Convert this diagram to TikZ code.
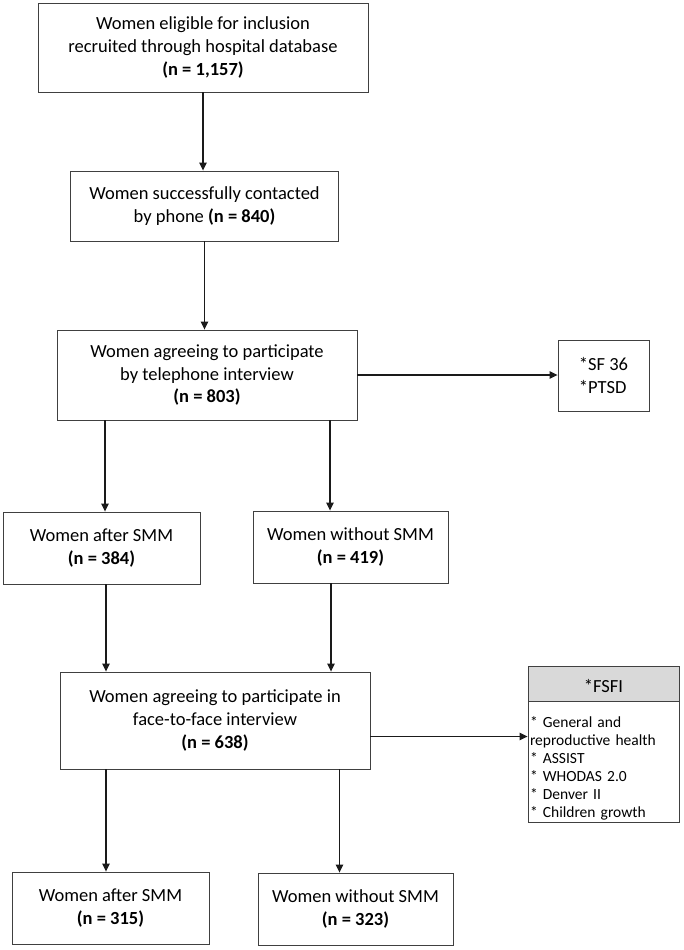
\documentclass[tikz,border=0pt]{standalone}
\usepackage{fontspec}
\setmainfont{Carlito}
\usetikzlibrary{arrows.meta,positioning,calc}
\definecolor{ink}{HTML}{1A1A1A}
\definecolor{boxline}{HTML}{404040}
\definecolor{headgray}{HTML}{D9D9D9}
\tikzset{
box/.style={draw=boxline,fill=white,line width=.9pt,align=center,font=\fontsize{18.5}{23}\selectfont,inner sep=2pt,execute at begin node={\rule{0pt}{18pt}}},
listbox/.style={box,align=left,font=\fontsize{15.5}{18}\selectfont,execute at begin node={\rule{0pt}{23pt}}},
flow/.style={-{Triangle[length=8pt,width=7.5pt]},line width=1.1pt,draw=ink}}

\begin{document}
\begin{tikzpicture}[x=1pt,y=-1pt]
\useasboundingbox (0,0) rectangle (683,950);
% telephone stage
\node[box,minimum width=330pt,minimum height=89pt] (eligible) at (203,47.5) {Women eligible for inclusion\\recruited through hospital database\\\textbf{(n = 1,157)}};
\node[box,minimum width=268pt,minimum height=70pt] (contacted) at (204.5,206) {Women successfully contacted\\by phone \textbf{(n = 840)}};
\node[box,minimum width=300pt,minimum height=90pt] (phone) at (207,375) {Women agreeing to participate\\by telephone interview\\\textbf{(n = 803)}};
\node[box,align=left,minimum width=91pt,minimum height=71pt] (sfptsd) at (603.5,375.5) {*SF 36\\{}*PTSD};
\node[box,minimum width=197pt,minimum height=72pt] (smmA) at (101.5,548) {Women after SMM\\\textbf{(n = 384)}};
\node[box,minimum width=195pt,minimum height=72pt] (nosmmA) at (350.5,547) {Women without SMM\\\textbf{(n = 419)}};
% face-to-face stage
\node[box,minimum width=310pt,minimum height=97pt] (facetoface) at (215,720.5) {Women agreeing to participate in\\face-to-face interview\\\textbf{(n = 638)}};
\node[box,fill=headgray,minimum width=151pt,minimum height=35pt] (fsfi) at (603.5,683.5) {*FSFI};
\node[listbox,anchor=north,minimum width=151pt,minimum height=121pt,text width=147pt] (measures) at (fsfi.south) {* General and\\reproductive health\\{}* ASSIST\\{}* WHODAS 2.0\\{}* Denver II\\{}* Children growth};
\node[box,minimum width=197pt,minimum height=72pt] (smmB) at (110.5,908) {Women after SMM\\\textbf{(n = 315)}};
\node[box,minimum width=195pt,minimum height=72pt] (nosmmB) at (355.5,909) {Women without SMM\\\textbf{(n = 323)}};
\coordinate (inA) at ([xshift=3.5pt]smmA.north);
\coordinate (inB) at ([xshift=-20.5pt]nosmmA.north);
\coordinate (outA) at ([xshift=4.5pt]smmA.south);
\coordinate (outB) at ([xshift=-19.5pt]nosmmA.south);
\coordinate (sideF) at ([yshift=-16pt]facetoface.east);
\coordinate (inC) at ([xshift=-4.5pt]smmB.north);
\coordinate (inD) at ([xshift=-16pt]nosmmB.north);
\draw[flow] (eligible.south) -- (eligible.south |- contacted.north);
\draw[flow] (contacted.south) -- (contacted.south |- phone.north);
\draw[flow] (phone.east) -- (phone.east -| sfptsd.west);
\draw[flow] (phone.south -| inA) -- (inA);
\draw[flow] (phone.south -| inB) -- (inB);
\draw[flow] (outA) -- (outA |- facetoface.north);
\draw[flow] (outB) -- (outB |- facetoface.north);
\draw[flow] (sideF) -- (sideF -| measures.west);
\draw[flow] (facetoface.south -| inC) -- (inC);
\draw[flow] (facetoface.south -| inD) -- (inD);
\end{tikzpicture}
\end{document}
